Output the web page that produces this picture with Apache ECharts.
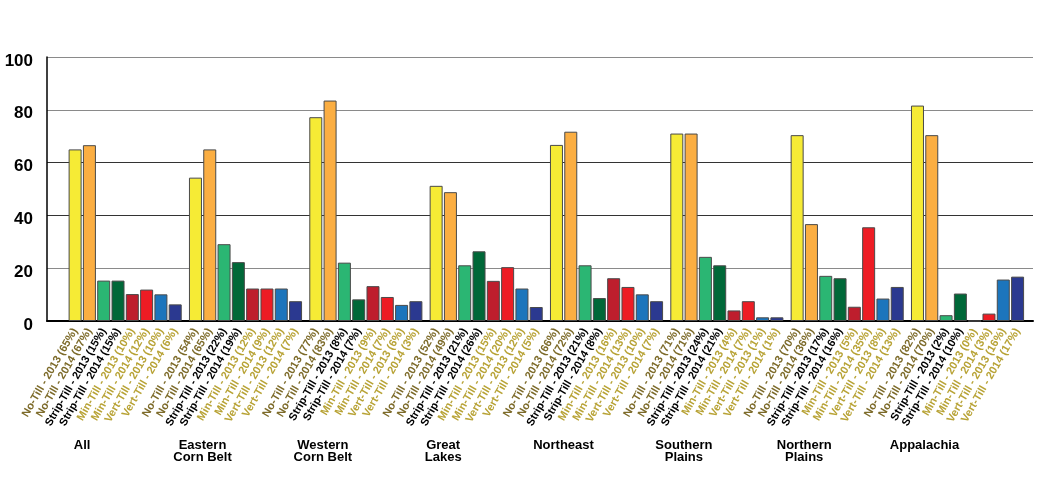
<!DOCTYPE html>
<html>
<head>
<meta charset="utf-8">
<script src="https://cdn.jsdelivr.net/npm/echarts@6/dist/echarts.min.js"></script>
<style>
  html, body { margin: 0; padding: 0; background: #fff; }
  #chart { width: 1048px; height: 482px; }
</style>
</head>
<body>
<div id="chart"></div>
<script>
// regions (x axis groups)
const regions = ['All', 'Eastern\nCorn Belt', 'Western\nCorn Belt', 'Great\nLakes', 'Northeast', 'Southern\nPlains', 'Northern\nPlains', 'Appalachia'];

// series names, in bar order inside a group
const seriesNames = ['No-Till - 2013', 'No-Till - 2014', 'Strip-Till - 2013', 'Strip-Till - 2014',
                     'Min-Till - 2013', 'Min-Till - 2014', 'Vert-Till - 2013', 'Vert-Till - 2014'];

// bar heights as drawn (percent)
const noTill2013    = [65, 54.3, 77.2, 51.2, 66.7, 71, 70.4, 81.6];
const noTill2014    = [66.6, 65, 83.5, 48.8, 71.7, 71, 36.7, 70.4];
const stripTill2013 = [15.3, 29.1, 22.1, 21.1, 21.1, 24.3, 17.1, 2.2];
const stripTill2014 = [15.3, 22.3, 8.2, 26.4, 8.7, 21.1, 16.2, 10.4];
const minTill2013   = [10.2, 12.3, 13.2, 15.2, 16.2, 4.0, 5.4, 0];
const minTill2014   = [11.9, 12.3, 9.1, 20.4, 12.9, 7.5, 35.5, 2.8];
const vertTill2013  = [10.1, 12.3, 6.1, 12.3, 10.1, 1.4, 8.5, 15.7];
const vertTill2014  = [6.3, 7.5, 7.5, 5.3, 7.5, 1.4, 12.9, 16.8];

// percentages printed in the tick labels
const pctNoTill2013    = [65, 54, 77, 52, 66, 71, 70, 82];
const pctNoTill2014    = [67, 65, 83, 49, 72, 71, 36, 70];
const pctStripTill2013 = [15, 22, 8, 21, 21, 24, 17, 2];
const pctStripTill2014 = [15, 19, 7, 26, 8, 21, 16, 10];
const pctMinTill2013   = [10, 12, 9, 15, 16, 4, 5, 0];
const pctMinTill2014   = [12, 9, 7, 20, 13, 7, 35, 3];
const pctVertTill2013  = [10, 12, 6, 12, 10, 1, 8, 16];
const pctVertTill2014  = [6, 7, 3, 5, 7, 1, 13, 17];

const yTicks = [0, 20, 40, 60, 80, 100];

const values = [noTill2013, noTill2014, stripTill2013, stripTill2014, minTill2013, minTill2014, vertTill2013, vertTill2014];
const pcts = [pctNoTill2013, pctNoTill2014, pctStripTill2013, pctStripTill2014, pctMinTill2013, pctMinTill2014, pctVertTill2013, pctVertTill2014];
const barColors = ['#f6eb35', '#fbae42', '#2bb673', '#006838', '#be1e2d', '#ed1c24', '#1c75bc', '#2b3990'];
const labelColors = ['#7d6b2a', '#7d6b2a', '#000000', '#000000', '#b8a336', '#b8a336', '#b8a336', '#b8a336'];

const chart = echarts.init(document.getElementById('chart'));

chart.setOption({
    animation: false,
    backgroundColor: '#ffffff',
    textStyle: { fontFamily: 'Liberation Sans, Arial, sans-serif' },
    grid: [
        { left: 47, right: 15, top: 57, bottom: 161 },  // frame: y axis + gridlines
        { left: 65, right: 17, top: 57, bottom: 161 }   // bars
    ],
    xAxis: [
        {
            gridIndex: 0, type: 'value', min: 0, max: 1,
            axisLine: { show: true, lineStyle: { color: '#000', width: 2 } },
            axisTick: { show: false }, axisLabel: { show: false }, splitLine: { show: false }
        },
        {
            gridIndex: 1, type: 'category', data: regions,
            axisLine: { show: false }, axisTick: { show: false },
            axisLabel: {
                interval: 0,
                margin: 118,
                color: '#000',
                fontWeight: 'bold',
                fontSize: 13,
                lineHeight: 12,
                padding: [0, 86, 0, 0]
            }
        }
    ],
    yAxis: [
        {
            gridIndex: 0, type: 'value', min: 0, max: 100, interval: 20,
            axisLine: { show: true, lineStyle: { color: '#000', width: 1.5 } },
            axisTick: { show: false },
            axisLabel: {
                margin: 14,
                formatter: v => yTicks.includes(v) ? '{t|' + v + '}' : '',
                rich: {
                    t: { color: '#000', fontWeight: 'bold', fontSize: 17, padding: [8, 0, 0, 0] }
                }
            },
            splitLine: {
                show: true,
                lineStyle: { color: ['#000', '#8a8a8a', '#333', '#333', '#8a8a8a', '#8a8a8a'], width: 1.2 }
            }
        },
        {
            gridIndex: 1, type: 'value', min: 0, max: 100, show: false
        }
    ],
    series: values.map((data, i) => ({
        name: seriesNames[i],
        type: 'bar',
        xAxisIndex: 1,
        yAxisIndex: 1,
        data: data,
        barWidth: 13,
        barGap: '10%',
        itemStyle: { color: barColors[i], borderColor: '#4a4a4a', borderWidth: 1 },
        label: {
            show: true,
            position: 'bottom',
            distance: 8,
            rotate: 60,
            align: 'right',
            verticalAlign: 'middle',
            fontSize: 11,
            fontWeight: 'bold',
            color: labelColors[i],
            formatter: p => seriesNames[i] + ' (' + pcts[i][p.dataIndex] + '%)'
        }
    }))
});
</script>
</body>
</html>
